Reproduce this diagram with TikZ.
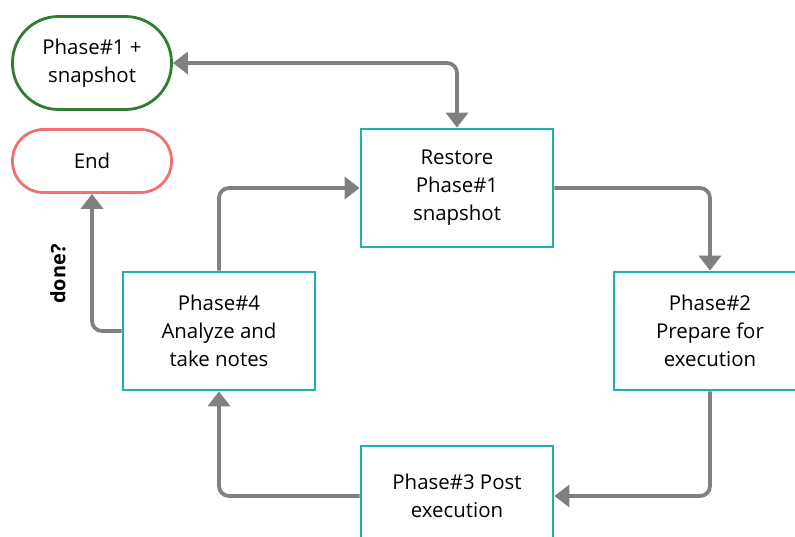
\documentclass[tikz,border=0pt]{standalone}
\usepackage{fontspec}
\newfontfamily\boxfont{Open Sans}
\usepackage{tikz}
\usetikzlibrary{shapes,arrows.meta}

\definecolor{boxteal}{RGB}{32,178,170}
\definecolor{startgreen}{RGB}{46,125,50}
\definecolor{endred}{RGB}{240,113,113}
\definecolor{conngray}{RGB}{128,128,128}

\tikzset{
  phasebox/.style={draw=boxteal, line width=2.8bp, fill=white, align=center,
    minimum width=192bp, minimum height=118bp, inner sep=0pt,
    font=\boxfont\fontsize{20.5}{28}\selectfont},
  terminal/.style={line width=2.8bp, fill=white, align=center,
    minimum width=159bp, inner sep=0pt,
    font=\boxfont\fontsize{20.5}{28}\selectfont},
  conn/.style={draw=conngray, line width=3.8bp, rounded corners=10bp,
    -{Triangle[width=22bp,length=15bp]}},
}

\begin{document}
\begin{tikzpicture}[x=1bp, y=-1bp]
				\useasboundingbox (0,0) rectangle (795,537);
				\clip (0,0) rectangle (795,537);
				% terminals
				\node [terminal, draw=startgreen, minimum height=93bp, rounded corners=46bp] (snap) at (92,63) {Phase\#1 +\\snapshot};
				\node [terminal, draw=endred, minimum height=63bp, rounded corners=31bp] (end) at (92,161) {End};
				% phases
				\node [phasebox] (restore) at (457,188) {Restore\\Phase\#1\\snapshot};
				\node [phasebox] (prepare) at (710,331) {Phase\#2\\Prepare for\\execution};
				\node [phasebox, minimum height=100bp] (post) at (457,496) {Phase\#3 Post\\execution};
				\node [phasebox] (analyze) at (219,331) {Phase\#4\\Analyze and\\take notes};
				% connectors
				\draw [conn, {Triangle[width=22bp,length=15bp]}-{Triangle[width=22bp,length=15bp]}] (snap.east) -| (restore.north);
				\draw [conn] (restore.east) -| (prepare.north);
				\draw [conn] (prepare.south) |- (post.east);
				\draw [conn] (post.west) -| (analyze.south);
				\draw [conn] (analyze.north) |- (restore.west);
				\draw [conn] (analyze.west) -| (end.south);
				\node [rotate=90, font=\boxfont\bfseries\fontsize{20}{24}\selectfont] (done) at (58,274) {done?};
\end{tikzpicture}
\end{document}
